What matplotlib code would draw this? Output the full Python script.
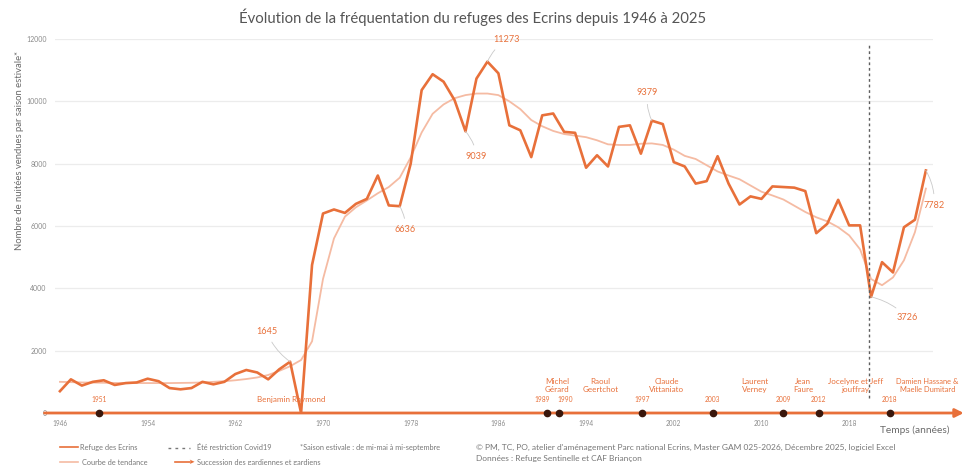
import matplotlib
matplotlib.use("Agg")
import matplotlib.pyplot as plt
from matplotlib.lines import Line2D

plt.rcParams['font.family'] = ['Lato', 'DejaVu Sans']

# ---------------- data ----------------
years = list(range(1946, 2026))
nuitees = [700, 1080, 880, 1000, 1050, 900, 960, 980, 1100, 1020,
           800, 760, 800, 1000, 920, 1000, 1250, 1380, 1300, 1080,
           1400, 1645, 0, 4750, 6400, 6530, 6420, 6710, 6870, 7620,
           6660, 6636, 8000, 10360, 10870, 10630, 10040, 9039, 10730, 11273,
           10900, 9230, 9070, 8210, 9550, 9610, 9020, 8990, 7870, 8270,
           7910, 9180, 9230, 8320, 9379, 9270, 8050, 7910, 7360, 7440,
           8240, 7360, 6690, 6950, 6870, 7270, 7250, 7230, 7120, 5770,
           6070, 6840, 6020, 6020, 3726, 4840, 4510, 5960, 6200, 7782]
tendance = [1000, 990, 980, 975, 970, 965, 960, 960, 960, 960,
            960, 965, 970, 980, 1000, 1020, 1050, 1090, 1140, 1220,
            1350, 1500, 1700, 2300, 4300, 5600, 6300, 6600, 6820, 7050,
            7250, 7550, 8200, 9000, 9600, 9900, 10100, 10200, 10250, 10250,
            10200, 10000, 9750, 9400, 9200, 9050, 8950, 8900, 8850, 8750,
            8620, 8600, 8600, 8640, 8650, 8600, 8450, 8250, 8150, 7950,
            7750, 7620, 7500, 7300, 7100, 6980, 6850, 6650, 6450, 6280,
            6150, 5960, 5700, 5250, 4300, 4100, 4350, 4900, 5800, 7200]
xtick_years = [1946, 1954, 1962, 1970, 1978, 1986, 1994, 2002, 2010, 2018]
ytick_values = [0, 2000, 4000, 6000, 8000, 10000, 12000]
labelled_years = [1967, 1977, 1983, 1985, 2000, 2020, 2025]

event_years = [1951, 1989, 1990, 1997, 2003, 2009, 2012, 2018]
gardiens = ["Benjamin Raymond", "Michel\nGérard", "Raoul\nGeertchot", "Claude\nVittaniato",
            "Laurent\nVerney", "Jean\nFaure", "Jocelyne et Jeff\njouffray",
            "Damien Hassane &\nMaelle Dumitard"]

# ---------------- style ----------------
C_LINE = "#E8703A"
C_TREND = "#F5BBA3"
C_TEXT = "#E8703A"
C_DOT = "#3A170C"
C_GRAY = "#8a8a8a"

W, H = 965, 465
fig = plt.figure(figsize=(W / 100, H / 100), dpi=100)
fig.patch.set_facecolor("white")
ax = fig.add_axes([55 / W, 1 - 413 / H, (933 - 55) / W, (413 - 39) / H])
ax.set_xlim(1945.55, 2025.65)
ax.set_ylim(0, 12000)
for s in ax.spines.values():
    s.set_visible(False)
ax.set_yticks(ytick_values)
ax.set_yticklabels([str(v) for v in ytick_values], fontsize=5, color=C_GRAY)
ax.set_xticks(xtick_years)
ax.set_xticklabels([str(v) for v in xtick_years], fontsize=4.7, color=C_GRAY)
ax.tick_params(length=0, pad=6)
ax.tick_params(axis='x', pad=5)
ax.grid(axis='y', color="#ececec", lw=0.9)
ax.set_axisbelow(True)

# trend + main line
ax.plot(years, tendance, color=C_TREND, lw=1.3, zorder=3)
ax.plot(years, nuitees, color=C_LINE, lw=1.9, zorder=4)

# covid line
ax.axvline(2019.8, ymin=0.04, ymax=0.985, color="#5e5e5e", lw=1.0, ls=(0, (2, 2)), zorder=5)

# value annotations
offsets = {1967: (-17, 22), 1977: (4, -17), 1983: (8, -18), 1985: (14, 16),
           2000: (-3, 20), 2020: (26, -15), 2025: (6, -25)}
for y in labelled_years:
    v = nuitees[years.index(y)]
    dx, dy = offsets[y]
    ax.annotate(f"{v}", xy=(y, v), xytext=(dx, dy), textcoords="offset points",
                fontsize=6.6, color=C_TEXT, ha="center", va="center",
                arrowprops=dict(arrowstyle="-", color="#c9c9c9", lw=0.6,
                                shrinkA=3, shrinkB=0,
                                connectionstyle="arc3,rad=0.15"),
                zorder=6)

# timeline (separate scale)
tl = ax.twiny()
tl.set_xlim(1947.27, 2021.68)
tl.set_ylim(0, 12000)
tl.axis("off")
ax.annotate("", xy=(1.035, 0), xytext=(-0.012, 0), xycoords="axes fraction",
            textcoords="axes fraction",
            arrowprops=dict(arrowstyle="-|>,head_length=0.5,head_width=0.25",
                            color=C_LINE, lw=2.0, shrinkA=0, shrinkB=0),
            annotation_clip=False, zorder=7)
tl.plot(event_years, [0] * len(event_years), "o", color=C_DOT, ms=4.5,
        zorder=8, clip_on=False)
for y in event_years:
    ha, dx = "center", 0
    if y == 1989:
        ha, dx = "right", 2
    elif y == 1990:
        ha, dx = "left", -1
    tl.annotate(str(y), xy=(y, 0), xytext=(dx, 7), textcoords="offset points",
                ha=ha, va="bottom", fontsize=4.8, color=C_TEXT)

name_pos = [(1967.3, 330), (1989.8, 640), (1993.5, 640), (1999.1, 640),
            (2006.6, 640), (2010.7, 640), (2015.1, 640), (2021.2, 640)]
for name, (x, yv) in zip(gardiens, name_pos):
    fs = 5.4 if name.startswith("Damien") else 5.8
    tl.text(x, yv, name, ha="center", va="bottom", fontsize=fs, color=C_TEXT,
            linespacing=1.25, clip_on=False, zorder=9)

# titles and texts
fig.text(473 / W, 1 - 17 / H,
         "Évolution de la fréquentation du refuges des Ecrins depuis 1946 à 2025",
         ha="center", va="center", fontsize=10.7, color="#555555")
fig.text(20 / W, 1 - 150 / H, "Nombre de nuitées vendues par saison estivale*",
         rotation=90, ha="center", va="center", fontsize=6.8, color="#6a6a6a")
fig.text(915 / W, 1 - 430 / H, "Temps (années)", ha="center", va="center",
         fontsize=7.3, color="#6a6a6a")

# legend-like footer
def fx(p):
    return p / W

def fy(p):
    return 1 - p / H

LFS = 5.3
fig.add_artist(Line2D([fx(60), fx(78)], [fy(447), fy(447)], color=C_LINE, lw=1.2))
fig.text(fx(80), fy(447), "Refuge des Ecrins", fontsize=LFS, color="#777", va="center")
fig.add_artist(Line2D([fx(168), fx(190)], [fy(448), fy(448)], color="#777", lw=1.0,
                      ls=(0, (2, 3))))
fig.text(fx(197), fy(447), "Été restriction Covid19", fontsize=LFS, color="#777", va="center")
fig.text(fx(300), fy(447), "*Saison estivale : de mi-mai à mi-septembre", fontsize=LFS,
         color="#777", va="center")
fig.add_artist(Line2D([fx(60), fx(78)], [fy(462), fy(462)], color=C_TREND, lw=1.2))
fig.text(fx(82), fy(462), "Courbe de tendance", fontsize=LFS, color="#777", va="center")
fig.add_artist(Line2D([fx(175), fx(190)], [fy(462), fy(462)], color=C_LINE, lw=1.2))
fig.text(fx(188), fy(462), "➤", fontsize=5, color=C_LINE, va="center",
         family=["DejaVu Sans"])
fig.text(fx(197), fy(462), "Succession des gardiennes et gardiens", fontsize=LFS,
         color="#777", va="center")
fig.text(fx(476), fy(447),
         "© PM, TC, PO, atelier d'aménagement Parc national Ecrins, Master GAM 025-2026, "
         "Décembre 2025, logiciel Excel", fontsize=6, color="#777", va="center")
fig.text(fx(476), fy(458), "Données : Refuge Sentinelle et CAF Briançon", fontsize=6,
         color="#777", va="center")

fig.savefig("out.png", dpi=100, facecolor="white")
